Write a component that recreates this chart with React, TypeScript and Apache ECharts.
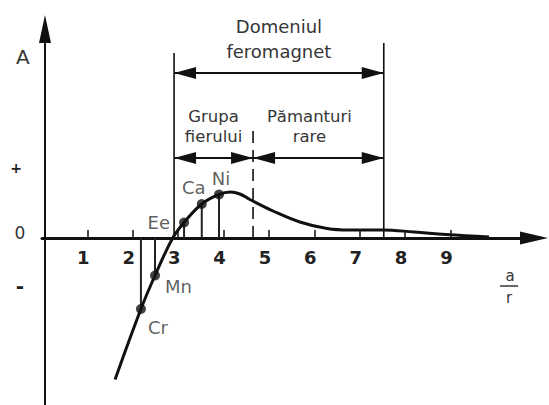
import { useEffect, useRef } from 'react';
import * as echarts from 'echarts';

// Axis ticks and labels
const xTicks = [1, 2, 3, 4, 5, 6, 7, 8, 9];
const signLabels = ['+', '0', '-'];
const axisTitle = 'A';
const ratioTop = 'a';
const ratioBottom = 'r';

// Exchange curve A(a/r)
const curveX = [1.61, 2.18, 2.49, 2.88, 3.13, 3.52, 3.9, 4.15, 4.36, 4.58, 5.09, 5.68, 6.28, 6.78, 7.5, 8.2, 8.9, 9.85];
const curveA = [-2.83, -1.42, -0.75, 0, 0.31, 0.68, 0.87, 0.92, 0.88, 0.77, 0.54, 0.32, 0.19, 0.16, 0.16, 0.12, 0.07, 0.02];

// Marked elements on the curve
const elementNames = ['Cr', 'Mn', 'Ee', 'Ca', 'Ni'];
const elementX = [2.18, 2.49, 3.13, 3.52, 3.9];
const elementA = [-1.42, -0.75, 0.31, 0.68, 0.87];

// Ferromagnetic domain bounds
const domainStart = 2.91;
const groupEnd = 4.65;
const domainEnd = 7.53;
const domainTops = [3.7, 3.9];
const groupTop = 2.2;
const outerArrowLevel = 3.3;
const innerArrowLevel = 1.6;
const domainLabel = 'Domeniul\nferomagnet';
const groupLabel = 'Grupa\nfierului';
const rareLabel = 'Pămanturi\nrare';

const FONT = 'DejaVu Sans';
const INK = '#111';
const TEXT = '#363636';

// Vertical range of the plot (A units); the a/r axis sits at A = 0
const Y_MIN = -3.34;
const Y_MAX = 4.18;
const PLOT_TOP = 29;
const PLOT_HEIGHT = 405 - PLOT_TOP;

export default function App() {
  const ref = useRef<HTMLDivElement>(null);

  useEffect(() => {
    if (!ref.current) return;
    const chart = echarts.init(ref.current, null, { renderer: 'svg' });

    const labelPlacement: any[] = [
      { position: 'right', offset: [-3, 18] },
      { position: 'right', offset: [0, 11] },
      { position: 'left', offset: [-4, 0] },
      { position: 'top', offset: [-8, 2] },
      { position: 'top', offset: [2, 3] },
    ];

    const vline = (x: number, top: number, dashed = false) => ({
      type: 'line',
      data: [
        [x, 0],
        [x, top],
      ],
      symbol: 'none',
      silent: true,
      clip: false,
      lineStyle: { color: INK, width: 1.6, type: dashed ? [12, 7] : 'solid' },
      z: 1,
    });

    const arrowLabel = (text: string, size: number, lh: number, dist: number, pad: number[]) => ({
      show: true,
      formatter: text,
      position: 'insideMiddleTop',
      distance: dist,
      fontFamily: FONT,
      fontSize: size,
      lineHeight: lh,
      color: TEXT,
      padding: pad,
    });

    // distance from the bottom of the plot up to A = 0
    const zeroOffset = (-Y_MIN / (Y_MAX - Y_MIN)) * PLOT_HEIGHT;

    chart.setOption({
      animation: false,
      backgroundColor: '#fff',
      grid: { left: 42, right: 15, top: PLOT_TOP, bottom: 0, containLabel: false, outerBoundsMode: 'none' },
      xAxis: {
        type: 'value',
        min: 0,
        max: 10.84,
        interval: 1,
        position: 'bottom',
        offset: -zeroOffset,
        axisLine: {
          onZero: false,
          lineStyle: { color: INK, width: 3 },
          symbol: ['none', 'triangle'],
          symbolSize: [13, 28],
        },
        axisTick: { show: true, inside: true, length: 8, customValues: xTicks, lineStyle: { color: INK, width: 1.5 } },
        axisLabel: {
          customValues: xTicks,
          formatter: (v: number) => String(v),
          margin: 10,
          fontFamily: FONT,
          fontWeight: 'bold',
          fontSize: 18,
          color: '#222',
          padding: [0, 8, 0, 0],
        },
        splitLine: { show: false },
      },
      yAxis: {
        type: 'value',
        min: Y_MIN,
        max: Y_MAX,
        position: 'left',
        offset: -3,
        axisLine: {
          show: true,
          onZero: false,
          lineStyle: { color: INK, width: 2 },
          symbol: ['none', 'triangle'],
          symbolSize: [12, 28],
        },
        axisTick: { show: false },
        axisLabel: { show: false },
        splitLine: { show: false },
      },
      graphic: [
        { type: 'text', left: 16, top: 47, style: { text: axisTitle, fontFamily: FONT, fontSize: 20, fill: TEXT } },
        { type: 'text', x: 16, y: 168, style: { text: signLabels[0], fontFamily: FONT, fontWeight: 'bold', fontSize: 14, fill: '#222', align: 'center', verticalAlign: 'middle' } },
        { type: 'text', x: 20, y: 233, style: { text: signLabels[1], fontFamily: FONT, fontSize: 17, fill: TEXT, align: 'center', verticalAlign: 'middle' } },
        { type: 'text', x: 20, y: 286, style: { text: signLabels[2], fontFamily: FONT, fontWeight: 'bold', fontSize: 20, fill: '#222', align: 'center', verticalAlign: 'middle' } },
        { type: 'text', x: 510, y: 276, style: { text: ratioTop, fontFamily: FONT, fontSize: 15, fill: TEXT, align: 'center', verticalAlign: 'middle' } },
        { type: 'line', shape: { x1: 500, y1: 286, x2: 518, y2: 286 }, style: { stroke: TEXT, lineWidth: 1.5 } },
        { type: 'text', x: 509, y: 298, style: { text: ratioBottom, fontFamily: FONT, fontSize: 15, fill: TEXT, align: 'center', verticalAlign: 'middle' } },
      ],
      series: [
        vline(domainStart, domainTops[0]),
        {
          ...vline(domainEnd, domainTops[1]),
          markLine: {
            silent: true,
            symbol: ['triangle', 'triangle'],
            symbolSize: [12, 22],
            symbolOffset: [
              [0, 11],
              [0, 11],
            ],
            lineStyle: { color: INK, width: 2, type: 'solid' },
            data: [
              [
                { coord: [domainStart, outerArrowLevel], label: arrowLabel(domainLabel, 18, 25, 9, [0, 0, 0, 0]) },
                { coord: [domainEnd, outerArrowLevel] },
              ],
              [
                { coord: [domainStart, innerArrowLevel], label: arrowLabel(groupLabel, 16.5, 20, 12, [0, 0, 0, 0]) },
                { coord: [groupEnd, innerArrowLevel] },
              ],
              [
                { coord: [groupEnd, innerArrowLevel], label: arrowLabel(rareLabel, 16.5, 20, 12, [0, 18, 0, 0]) },
                { coord: [domainEnd, innerArrowLevel] },
              ],
            ],
          },
        },
        vline(groupEnd, groupTop, true),
        {
          type: 'bar',
          data: elementX.map((x, i) => [x, elementA[i]]),
          barWidth: 2,
          itemStyle: { color: '#222' },
          silent: true,
          z: 2,
        },
        {
          type: 'line',
          data: curveX.map((x, i) => [x, curveA[i]]),
          smooth: 0.4,
          symbol: 'none',
          lineStyle: { color: INK, width: 3 },
          silent: true,
          z: 3,
        },
        {
          type: 'scatter',
          data: elementX.map((x, i) => ({
            value: [x, elementA[i]],
            name: elementNames[i],
            label: { show: true, ...labelPlacement[i] },
          })),
          symbolSize: 10,
          itemStyle: { color: INK },
          label: {
            formatter: '{b}',
            fontFamily: FONT,
            fontSize: 18,
            color: TEXT,
          },
          silent: true,
          z: 4,
        },
      ],
    });

    return () => chart.dispose();
  }, []);

  return <div ref={ref} style={{ position: 'absolute', left: 0, top: 0, width: 549, height: 405 }} />;
}
